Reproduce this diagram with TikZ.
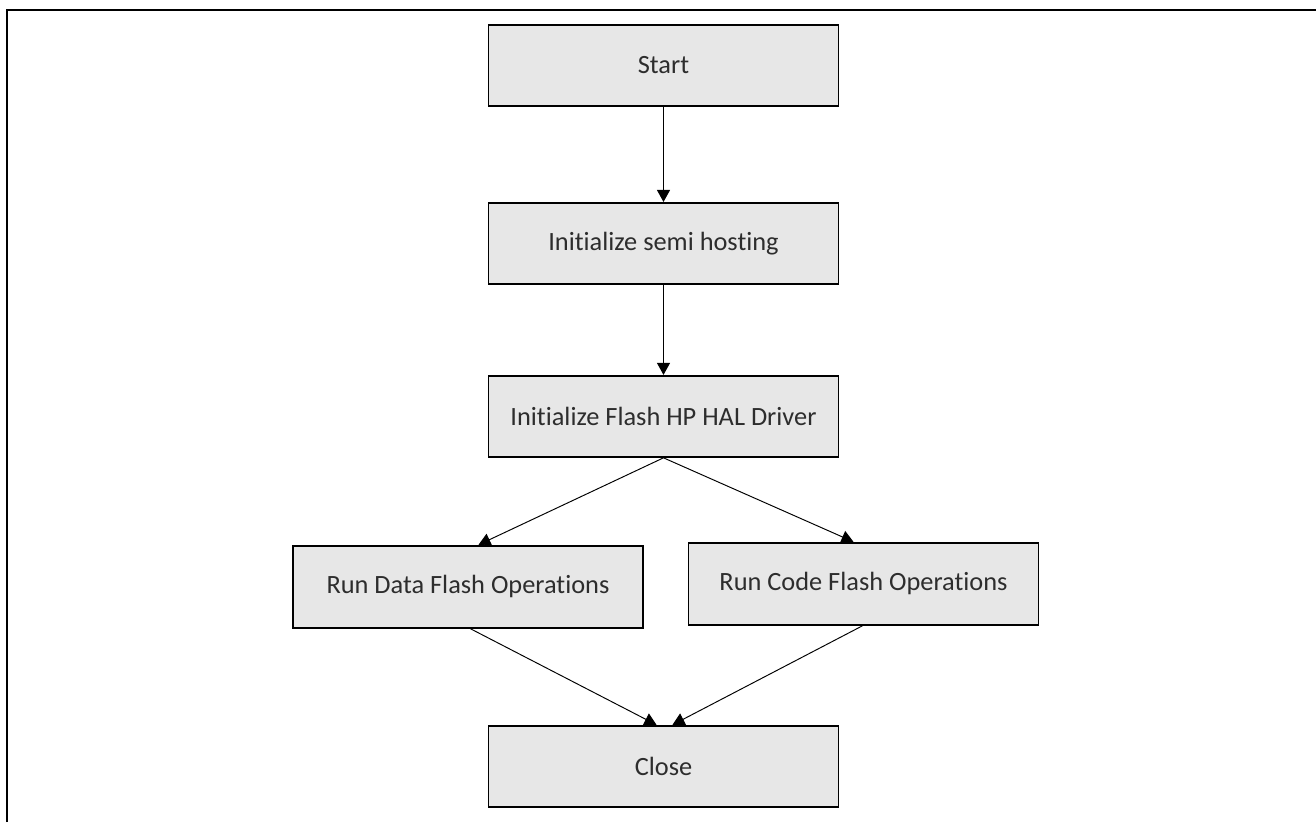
\documentclass[tikz,border=0pt]{standalone}
\usepackage{fontspec}
\setmainfont{Carlito}[Ligatures=NoCommon]
\usepackage{tikz}
\usepackage{xcolor}
\usetikzlibrary{positioning}
\usetikzlibrary{arrows.meta}
\definecolor{boxfill}{RGB}{231, 231, 231}
\definecolor{boxtext}{RGB}{45, 45, 45}
\tikzstyle{stepbox} = [
	draw=black,
	line width=1.1pt,
	fill=boxfill,
	text=boxtext,
	font=\fontsize{15}{18}\selectfont,
	minimum width=7.0cm,
	minimum height=1.62cm,
	inner sep=0pt,
]
\tikzstyle{flow} = [
	line width=0.55pt,
	-{Triangle[length=0.24cm, width=0.26cm]}
]

\begin{document}
\begin{tikzpicture}[node distance=1.9cm and 0cm]
	\useasboundingbox (0,0) rectangle (26.32,16.44);

	%
	% Frame
	\draw[line width=1.3pt] (0.14,0) -- (0.14,16.24) -- (26.32,16.24);

	%
	% Steps
	\node[stepbox] at (13.27,15.13) (start) {Start};
	\node[stepbox, below=of start] (semi) {Initialize semi hosting};
	\node[stepbox, below=1.8cm of semi] (hal) {Initialize Flash HP HAL Driver};
	\node[stepbox, below=1.74cm of hal, xshift=-3.91cm, minimum height=1.64cm] (data) {Run Data Flash Operations};
	\node[stepbox, below=1.68cm of hal, xshift=4.0cm, minimum height=1.64cm] (code) {Run Code Flash Operations};
	\node[stepbox, below=5.34cm of hal] (close) {Close};

	%
	% Arrows
	\draw[flow] (start) -- (semi);
	\draw[flow] (semi) -- (hal);

	\draw[flow] (hal.south) -- ([xshift=0.21cm]data.north);
	\draw[flow] (hal.south) -- ([xshift=-0.2cm]code.north);

	\draw[flow] ([xshift=0.05cm]data.south) -- ([xshift=-0.14cm]close.north);
	\draw[flow] ([xshift=-0.02cm]code.south) -- ([xshift=0.18cm]close.north);
\end{tikzpicture}
\end{document}
